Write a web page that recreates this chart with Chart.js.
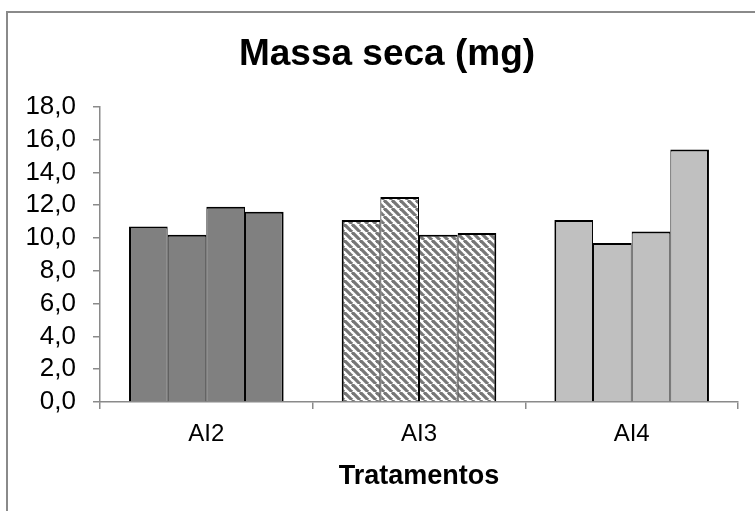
<!DOCTYPE html>
<html>
<head>
<meta charset="utf-8">
<script src="https://cdn.jsdelivr.net/npm/chart.js@4"></script>
<style>
  html, body { margin: 0; padding: 0; background: #fff; }
  #wrap { position: relative; width: 755px; height: 511px; overflow: hidden; }
  /* moldura do gráfico (só aparecem as bordas esquerda e superior) */
  #frame { position: absolute; left: 6px; top: 11px; width: 900px; height: 700px;
           border-left: 2px solid #8a8a8a; border-top: 2px solid #8a8a8a; }
  #chart { position: absolute; left: 0; top: 0; }
</style>
</head>
<body>
<div id="wrap">
  <div id="frame"></div>
  <canvas id="chart" width="755" height="511"></canvas>
</div>
<script>
/* ── dados ── */
const tratamentos = ['AI2', 'AI3', 'AI4'];
const rep1 = [10.7, 11.1, 11.1];
const rep2 = [10.2, 12.5, 9.7];
const rep3 = [11.9, 10.2, 10.4];
const rep4 = [11.6, 10.3, 15.4];
const yTickLabels = ['0,0', '2,0', '4,0', '6,0', '8,0', '10,0', '12,0', '14,0', '16,0', '18,0'];

const FONT = "'Liberation Sans', Arial, sans-serif";
const AXIS_GRAY = '#8a8a8a';
const PAD_LEFT = 36;   // desloca o título para o centro da moldura

// hachura diagonal (\\\) para o AI3
function hatchPattern() {
  const c = document.createElement('canvas');
  c.width = 8; c.height = 8;
  const g = c.getContext('2d');
  g.fillStyle = '#fff';
  g.fillRect(0, 0, 8, 8);
  g.strokeStyle = '#777';
  g.lineWidth = 3.2;
  [-8, 0, 8].forEach(k => {
    g.beginPath();
    g.moveTo(k, 0);
    g.lineTo(k + 8, 8);
    g.stroke();
  });
  return g.createPattern(c, 'repeat');
}

// o eixo y ocupa só 64px; abre a área de recorte dos rótulos até a borda do canvas
const yLabelRoom = {
  id: 'yLabelRoom',
  afterLayout(chart) { chart.scales.y.left = 0; }
};

const ctx = document.getElementById('chart').getContext('2d');
const fills = ['#808080', hatchPattern(), '#c0c0c0'];

// bordas laterais mais finas entre barras vizinhas
const reps = [rep1, rep2, rep3, rep4];
const datasets = reps.map((vals, i) => ({
  label: 'R' + (i + 1),
  data: vals,
  backgroundColor: fills,
  borderColor: '#000',
  borderWidth: { top: 2, bottom: 0, left: i === 0 ? 2 : 1, right: i === 3 ? 2 : 1 },
  borderSkipped: 'start',
  categoryPercentage: 0.727,
  barPercentage: 1.0
}));

new Chart(ctx, {
  type: 'bar',
  data: { labels: tratamentos, datasets },
  plugins: [yLabelRoom],
  options: {
    responsive: false,
    animation: false,
    devicePixelRatio: 1,
    layout: { padding: { top: 0, right: 17, bottom: 0, left: PAD_LEFT } },
    plugins: {
      legend: { display: false },
      tooltip: { enabled: false },
      title: {
        display: true,
        text: 'Massa seca (mg)',
        color: '#000',
        font: { family: FONT, size: 37, weight: 'bold' },
        padding: { top: 32.7, bottom: 29.7 }
      }
    },
    scales: {
      x: {
        z: 1,
        grid: { offset: true, drawOnChartArea: false, drawTicks: true, tickLength: 7, color: AXIS_GRAY, lineWidth: 1.5 },
        border: { color: AXIS_GRAY, width: 1.5 },
        ticks: { color: '#000', font: { family: FONT, size: 24 }, padding: 11 },
        title: {
          display: true,
          text: 'Tratamentos',
          color: '#000',
          font: { family: FONT, size: 27, weight: 'bold' },
          padding: { top: 4, bottom: 18 }
        },
        afterFit: s => { s.height = 109; }
      },
      y: {
        min: 0,
        max: 18,
        grid: { drawOnChartArea: false, drawTicks: true, tickLength: 7, color: AXIS_GRAY, lineWidth: 1.5 },
        border: { color: AXIS_GRAY, width: 1.5 },
        ticks: {
          stepSize: 2,
          autoSkip: false,
          color: '#000',
          padding: 17,
          font: { family: FONT, size: 26 },
          callback: (v, i) => yTickLabels[i]
        },
        afterFit: s => { s.width = 100 - PAD_LEFT; }
      }
    }
  }
});
</script>
</body>
</html>
